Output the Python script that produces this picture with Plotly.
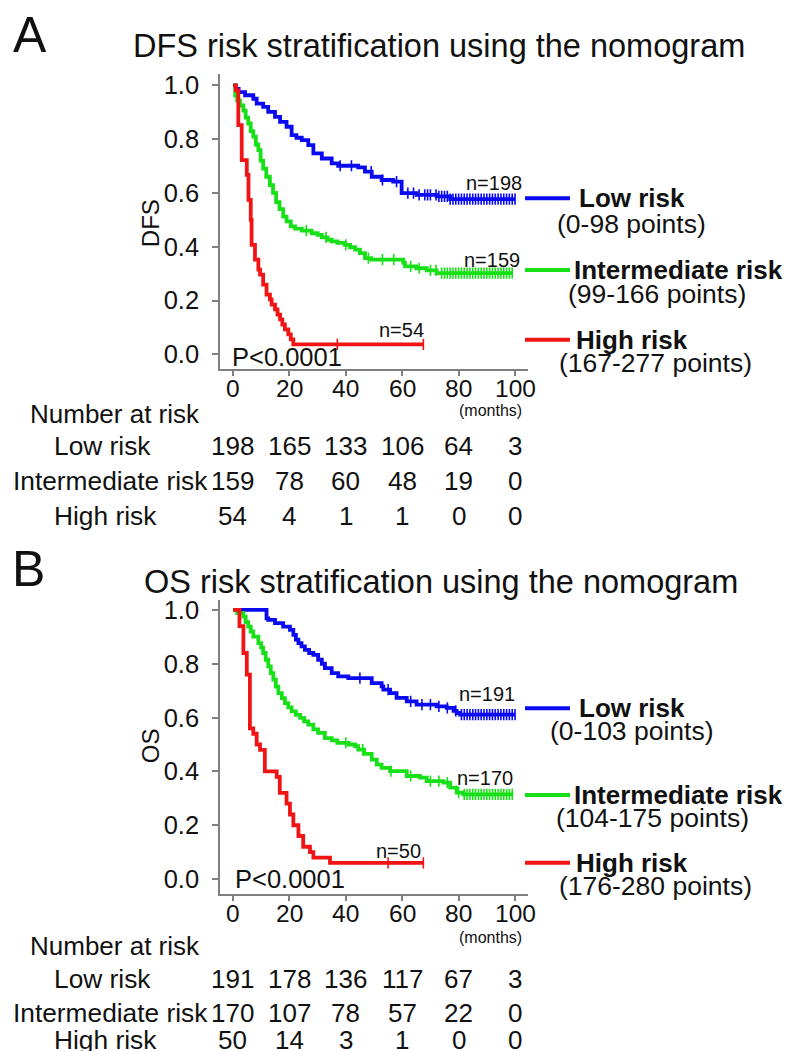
import plotly.graph_objects as go

FONT = "Liberation Sans, Arial, Helvetica, sans-serif"
W, H = 788, 1051

BLUE = "#0a0af2"
GREEN = "#18e018"
RED = "#f01414"
AXC = "#808080"
TXT = "#111111"

# ---------------- Panel A: DFS ----------------
dfs_low_t = [0, 1, 2, 4.3, 7.2, 8.4, 10.7, 12.5, 14.9, 16.7, 19, 20.8, 22.5, 24.4, 26.7, 28.5,
             31.5, 35, 37.3, 44.4, 46.8, 49.2, 52.7, 56.8, 59.8, 65.1, 72.2, 77, 100]
dfs_low_s = [1.0, 0.987, 0.975, 0.963, 0.950, 0.932, 0.920, 0.901, 0.883, 0.864, 0.846, 0.815, 0.805,
             0.796, 0.778, 0.747, 0.728, 0.710, 0.701, 0.695, 0.679, 0.660, 0.648, 0.642, 0.599, 0.593,
             0.587, 0.577, 0.577]
dfs_low_cens = [38, 42, 49, 53, 58, 62, 64, 66, 68, 69, 70, 72, 73, 74, 75, 76, 77, 78, 79, 80, 81, 82,
                83, 84, 85, 86, 87, 88, 89, 90, 91, 92, 93, 94, 95, 96, 97, 98, 99, 100]

dfs_int_t = [0, 0.8, 1.5, 2.5, 3.7, 4.5, 5.4, 6.3, 7.2, 8.1, 9, 9.8, 10.7, 11.8, 13.1, 14.2, 15.3, 16.5,
             17.8, 19, 20.5, 22, 24.4, 27.9, 30, 31.5, 33.5, 35, 37, 39.7, 41.5, 43.3, 45, 46.8, 49,
             60.4, 61, 65, 68.7, 72.2, 99]
dfs_int_s = [1.0, 0.962, 0.943, 0.925, 0.906, 0.88, 0.858, 0.83, 0.809, 0.78, 0.759, 0.72, 0.69, 0.66,
             0.629, 0.60, 0.566, 0.54, 0.512, 0.494, 0.476, 0.467, 0.460, 0.450, 0.444, 0.435, 0.426,
             0.420, 0.414, 0.407, 0.398, 0.389, 0.376, 0.358, 0.352, 0.340, 0.327, 0.320, 0.312, 0.302,
             0.302]
dfs_int_cens = [26, 33, 40, 48, 53, 57, 63, 66, 70, 72, 74, 75, 76, 77, 78, 79, 80, 81, 82, 83, 84, 85,
                86, 87, 88, 89, 90, 91, 92, 93, 94, 95, 96, 97, 98, 99]

dfs_high_t = [0, 1, 1.9, 3.1, 4.9, 5.5, 6.3, 6.6, 7.8, 9, 9.6, 10.7, 11.9, 13.1, 13.7, 14.9, 15.8, 16.7,
              17.5, 18.4, 19.6, 20.5, 21.4, 67.5]
dfs_high_s = [1.0, 0.981, 0.852, 0.722, 0.667, 0.574, 0.50, 0.407, 0.352, 0.315, 0.296, 0.259, 0.222,
              0.204, 0.185, 0.167, 0.148, 0.130, 0.111, 0.093, 0.074, 0.056, 0.037, 0.037]
dfs_high_cens = [37, 67.5]

# ---------------- Panel B: OS ----------------
os_low_t = [0, 11.9, 12.5, 14.9, 17.8, 20.2, 21.4, 22.3, 23.2, 24.3, 25.5, 27, 28.5, 30.2, 31.5, 32.6,
            35, 37.3, 40.9, 49.2, 52.7, 53.3, 55.7, 58, 61.6, 65.1, 72.2, 75.8, 78.2, 79.3, 80.5, 100]
os_low_s = [1.0, 0.969, 0.963, 0.951, 0.938, 0.926, 0.907, 0.89, 0.877, 0.865, 0.852, 0.84, 0.833,
            0.815, 0.80, 0.784, 0.765, 0.753, 0.747, 0.728, 0.716, 0.704, 0.691, 0.673, 0.660, 0.648,
            0.642, 0.636, 0.625, 0.617, 0.611, 0.611]
os_low_cens = [45, 55, 63, 67, 70, 73, 76, 79, 81, 82, 83, 84, 85, 86, 87, 88, 89, 90, 91, 92, 93, 94,
               95, 96, 97, 98, 99, 100]

os_int_t = [0, 1.5, 3.7, 4.5, 5.4, 6.3, 7.2, 9, 10, 10.7, 11.6, 12.5, 13.4, 14.3, 15.2, 16.1, 17.3, 18.4,
            19.6, 20.8, 22.3, 23.8, 25.2, 26.7, 28.5, 30.2, 32.6, 35, 37, 41, 43.3, 44.4, 46.5, 49.2,
            51, 52.7, 55.7, 61.6, 66.3, 68.7, 74.6, 77, 79.3, 81.7, 99.4]
os_int_s = [1.0, 0.988, 0.975, 0.955, 0.938, 0.92, 0.901, 0.877, 0.86, 0.840, 0.815, 0.79, 0.765, 0.741,
            0.715, 0.691, 0.672, 0.654, 0.638, 0.623, 0.61, 0.599, 0.586, 0.574, 0.556, 0.543, 0.524,
            0.515, 0.506, 0.50, 0.494, 0.481, 0.465, 0.444, 0.425, 0.413, 0.401, 0.383, 0.377, 0.364,
            0.358, 0.340, 0.321, 0.315, 0.315]
os_int_cens = [40, 46, 56, 63, 70, 73, 76, 80, 82, 83, 84, 85, 86, 87, 88, 89, 90, 91, 92, 93, 94, 95,
               96, 97, 98, 99]

os_high_t = [0, 2.3, 3.7, 4.9, 6, 7.2, 8.4, 9.6, 11.3, 15.5, 16.6, 19, 20.2, 21.4, 23.2, 24.9, 27.3,
             28.5, 34.4, 67.5]
os_high_s = [1.0, 0.94, 0.84, 0.76, 0.56, 0.54, 0.50, 0.48, 0.40, 0.38, 0.32, 0.28, 0.24, 0.20, 0.16,
             0.12, 0.10, 0.08, 0.06, 0.06]
os_high_cens = [55, 67.5]

# ---------------- Number at risk ----------------
risk_months = [0, 20, 40, 60, 80, 100]
dfs_risk_low = [198, 165, 133, 106, 64, 3]
dfs_risk_int = [159, 78, 60, 48, 19, 0]
dfs_risk_high = [54, 4, 1, 1, 0, 0]
os_risk_low = [191, 178, 136, 117, 67, 3]
os_risk_int = [170, 107, 78, 57, 22, 0]
os_risk_high = [50, 14, 3, 1, 0, 0]

tick_vals_y = [0.0, 0.2, 0.4, 0.6, 0.8, 1.0]
tick_text_y = ["0.0", "0.2", "0.4", "0.6", "0.8", "1.0"]
tick_vals_x = [0, 20, 40, 60, 80, 100]
tick_text_x = ["0", "20", "40", "60", "80", "100"]


def surv_at(ts, ss, t):
    val = ss[0]
    for ti, si in zip(ts, ss):
        if ti <= t:
            val = si
    return val


def px(x):
    return x / W


def py(y):
    return 1 - y / H


fig = go.Figure()


def add_curve(ts, ss, cens, color, xa, ya):
    fig.add_trace(go.Scatter(x=ts, y=ss, mode="lines", line=dict(shape="hv", width=3.8, color=color),
                             xaxis=xa, yaxis=ya, showlegend=False, hoverinfo="skip"))
    fig.add_trace(go.Scatter(x=cens, y=[surv_at(ts, ss, c) for c in cens], mode="markers",
                             marker=dict(symbol="line-ns", size=8, color=color,
                                         line=dict(width=1.6, color=color)),
                             xaxis=xa, yaxis=ya, showlegend=False, hoverinfo="skip"))


add_curve(dfs_low_t, dfs_low_s, dfs_low_cens, BLUE, "x", "y")
add_curve(dfs_int_t, dfs_int_s, dfs_int_cens, GREEN, "x", "y")
add_curve(dfs_high_t, dfs_high_s, dfs_high_cens, RED, "x", "y")
add_curve(os_low_t, os_low_s, os_low_cens, BLUE, "x2", "y2")
add_curve(os_int_t, os_int_s, os_int_cens, GREEN, "x2", "y2")
add_curve(os_high_t, os_high_s, os_high_cens, RED, "x2", "y2")

xdom = [px(220), px(528)]
axis_common = dict(showline=True, linecolor=AXC, linewidth=1.5, ticks="outside", ticklen=6,
                   tickcolor=AXC, tickwidth=1.5, showgrid=False, zeroline=False,
                   tickfont=dict(family=FONT, size=25.5, color=TXT))

fig.update_layout(
    width=W, height=H, margin=dict(l=0, r=0, t=0, b=0),
    paper_bgcolor="white", plot_bgcolor="white",
    xaxis=dict(domain=xdom, range=[-4.6, 104.6], anchor="y", tickvals=tick_vals_x,
               showticklabels=False, **axis_common),
    yaxis=dict(domain=[py(366), py(70)], range=[-0.053, 1.043], anchor="x", tickvals=tick_vals_y,
               ticktext=tick_text_y, ticklabelstandoff=8, **axis_common),
    xaxis2=dict(domain=xdom, range=[-4.6, 104.6], anchor="y2", tickvals=tick_vals_x,
                showticklabels=False, **axis_common),
    yaxis2=dict(domain=[py(893), py(598)], range=[-0.054, 1.038], anchor="x2", tickvals=tick_vals_y,
                ticktext=tick_text_y, ticklabelstandoff=8, **axis_common),
)

ann = []


def text(t, x, y, size, xanchor="center", bold=False, angle=0):
    ann.append(dict(text=("<b>%s</b>" % t) if bold else t, x=px(x), y=py(y), xref="paper",
                    yref="paper", xanchor=xanchor, yanchor="middle", showarrow=False,
                    textangle=angle, font=dict(family=FONT, size=size, color=TXT)))


def xtext(t, xa, xv, y, size):
    ann.append(dict(text=t, x=xv, y=py(y), xref=xa, yref="paper", xanchor="center",
                    yanchor="middle", showarrow=False, font=dict(family=FONT, size=size, color=TXT)))


# x tick labels (placed on the axis scale)
for xa, yy in (("x", 386), ("x2", 913)):
    for v, t in zip(tick_vals_x, tick_text_x):
        xtext(t, xa, v, yy, 24.5)

# panel letters & titles
text("A", 30, 31, 50)
text("B", 28, 567, 50)
text("DFS risk stratification using the nomogram", 439, 42, 32.5)
text("OS risk stratification using the nomogram", 441, 580, 32.5)
text("DFS", 150, 220, 24, angle=-90)
text("OS", 150, 745, 24, angle=-90)
text("P<0.0001", 230, 354, 25.5, xanchor="left")
text("P<0.0001", 233, 878, 25.5, xanchor="left")

# n labels
text("n=198", 494, 180, 20)
text("n=159", 492, 257, 20)
text("n=54", 401, 327, 20)
text("n=191", 487, 693, 20)
text("n=170", 485, 777, 20)
text("n=50", 398, 850, 20)

# legends
legA = [(195, BLUE, "Low risk", 577, "(0-98 points)", 631, 221),
        (267, GREEN, "Intermediate risk", 572, "(99-166 points)", 657, 291),
        (337, RED, "High risk", 574, "(167-277 points)", 655, 360)]
legB = [(707, BLUE, "Low risk", 577, "(0-103 points)", 632, 730),
        (794, GREEN, "Intermediate risk", 572, "(104-175 points)", 652, 817),
        (862, RED, "High risk", 574, "(176-280 points)", 655, 885)]
shapes = []
for (yy, col, lab, lx, sub, sx, sy) in legA + legB:
    shapes.append(dict(type="line", xref="paper", yref="paper", x0=px(525), x1=px(570),
                       y0=py(yy), y1=py(yy), line=dict(color=col, width=4)))
    text(lab, lx, yy, 26, xanchor="left", bold=True)
    text(sub, sx, sy, 26.5)

# months labels
text("(months)", 491, 408, 16)
text("(months)", 491, 937, 16)


# number at risk tables
def risk_table(xa, ys, rows):
    text("Number at risk", 28, ys[0], 26, xanchor="left")
    labels = [("Low risk", 102), ("Intermediate risk", 110), ("High risk", 105)]
    for (lab, cx), yy, vals in zip(labels, ys[1:], rows):
        text(lab, cx, yy, 26.3)
        for m, v in zip(risk_months, vals):
            xtext(str(v), xa, m, yy, 26)


risk_table("x", [412, 444, 479, 514], [dfs_risk_low, dfs_risk_int, dfs_risk_high])
risk_table("x2", [946, 979, 1013, 1040], [os_risk_low, os_risk_int, os_risk_high])

fig.update_layout(annotations=ann, shapes=shapes)
fig.write_html(
    "out.html",
    config={"displayModeBar": False},
    post_script="document.body.style.margin='0px';document.body.style.overflow='hidden';",
)
